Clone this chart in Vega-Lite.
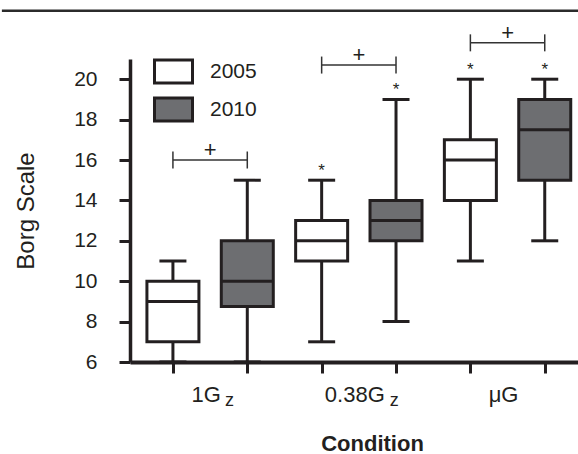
{
  "$schema": "https://vega.github.io/schema/vega-lite/v6.json",
  "width": 448,
  "height": 303,
  "autosize": {"type": "none"},
  "padding": {"left": 130, "top": 59, "right": 0, "bottom": 92},
  "config": {
    "view": {"stroke": null},
    "font": "Liberation Sans",
    "axis": {"grid": false, "domainColor": "#231f20", "tickColor": "#231f20", "labelColor": "#231f20", "titleColor": "#231f20", "tickCap": "butt"}
  },
  "datasets": {
    "boxes": [
      {"cond": "1Gz", "year": "2005", "pos": 1, "min": 6, "q1": 7, "med": 9, "q3": 10, "max": 11, "star": ""},
      {"cond": "1Gz", "year": "2010", "pos": 2, "min": 6, "q1": 8.75, "med": 10, "q3": 12, "max": 15, "star": ""},
      {"cond": "0.38Gz", "year": "2005", "pos": 3, "min": 7, "q1": 11, "med": 12, "q3": 13, "max": 15, "star": "*"},
      {"cond": "0.38Gz", "year": "2010", "pos": 4, "min": 8, "q1": 12, "med": 13, "q3": 14, "max": 19, "star": "*"},
      {"cond": "μG", "year": "2005", "pos": 5, "min": 11, "q1": 14, "med": 16, "q3": 17, "max": 20, "star": "*"},
      {"cond": "μG", "year": "2010", "pos": 6, "min": 12, "q1": 15, "med": 17.5, "q3": 19, "max": 20, "star": "*"}
    ],
    "brackets": [
      {"cond": "1Gz", "x1": 1, "x2": 2, "mid": 1.5, "level": 16, "sign": "+"},
      {"cond": "0.38Gz", "x1": 3, "x2": 4, "mid": 3.5, "level": 20.7, "sign": "+"},
      {"cond": "μG", "x1": 5, "x2": 6, "mid": 5.5, "level": 21.8, "sign": "+"}
    ],
    "xlabels": [
      {"cond": "1Gz", "pos": 1.5, "label": "1G", "sub": "z"},
      {"cond": "0.38Gz", "pos": 3.5, "label": "0.38G", "sub": "z"},
      {"cond": "μG", "pos": 5.5, "label": "μG", "sub": ""}
    ]
  },
  "layer": [
    {
      "data": {"values": [{"line": "top"}]},
      "mark": {"type": "rule", "stroke": "#2b2b2b", "strokeWidth": 2.5},
      "encoding": {
        "x": {"datum": -1.3, "type": "quantitative"},
        "x2": {"datum": 7},
        "y": {"datum": 23.39, "type": "quantitative"}
      }
    },
    {
      "data": {"name": "boxes"},
      "mark": {"type": "rule", "stroke": "#231f20", "strokeWidth": 3},
      "encoding": {
        "x": {"field": "pos", "type": "quantitative", "scale": {"domain": [0.49, 6.38], "nice": false, "zero": false},
          "axis": {"values": [1, 2, 3, 4, 5, 6], "labels": false, "tickSize": 11, "tickWidth": 3, "domainWidth": 4, "title": "Condition", "titleFontSize": 22, "titleFontWeight": "bold", "titleX": 242, "titleY": 88, "titleBaseline": "alphabetic", "titleAlign": "center"}},
        "y": {"field": "min", "type": "quantitative", "scale": {"domain": [6, 21], "nice": false, "zero": false},
          "axis": {"values": [6, 8, 10, 12, 14, 16, 18, 20], "tickSize": 11, "tickWidth": 3, "domainWidth": 3.5, "labelFontSize": 21, "labelPadding": 22, "title": "Borg Scale", "titleFontSize": 24, "titleFontWeight": "normal", "titlePadding": 35}},
        "y2": {"field": "max"}
      }
    },
    {
      "data": {"name": "boxes"},
      "mark": {"type": "tick", "orient": "horizontal", "color": "#231f20", "size": 27, "thickness": 3, "opacity": 1},
      "encoding": {
        "x": {"field": "pos", "type": "quantitative"},
        "y": {"field": "min", "type": "quantitative"}
      }
    },
    {
      "data": {"name": "boxes"},
      "mark": {"type": "tick", "orient": "horizontal", "color": "#231f20", "size": 27, "thickness": 3, "opacity": 1},
      "encoding": {
        "x": {"field": "pos", "type": "quantitative"},
        "y": {"field": "max", "type": "quantitative"}
      }
    },
    {
      "data": {"name": "boxes"},
      "mark": {"type": "bar", "size": 52, "stroke": "#231f20", "strokeWidth": 3, "opacity": 1},
      "encoding": {
        "x": {"field": "pos", "type": "quantitative"},
        "y": {"field": "q1", "type": "quantitative"},
        "y2": {"field": "q3"},
        "fill": {"field": "year", "type": "nominal", "scale": {"domain": ["2005", "2010"], "range": ["#ffffff", "#6d6e71"]},
          "legend": {"title": null, "orient": "none", "legendX": 23, "legendY": -8, "padding": 0, "symbolType": "M-1,-0.6H1V0.6H-1Z", "symbolSize": 1444, "symbolStrokeColor": "#231f20", "symbolStrokeWidth": 3, "symbolOpacity": 1, "labelFontSize": 21, "labelColor": "#231f20", "labelOffset": 16, "rowPadding": -5}}
      }
    },
    {
      "data": {"name": "boxes"},
      "mark": {"type": "tick", "orient": "horizontal", "color": "#231f20", "size": 51, "thickness": 3, "opacity": 1},
      "encoding": {
        "x": {"field": "pos", "type": "quantitative"},
        "y": {"field": "med", "type": "quantitative"}
      }
    },
    {
      "data": {"name": "boxes"},
      "mark": {"type": "text", "fontSize": 17, "color": "#231f20", "baseline": "alphabetic", "dy": -4},
      "encoding": {
        "x": {"field": "pos", "type": "quantitative"},
        "y": {"field": "max", "type": "quantitative"},
        "text": {"field": "star"}
      }
    },
    {
      "data": {"name": "brackets"},
      "mark": {"type": "rule", "stroke": "#333333", "strokeWidth": 1.5},
      "encoding": {
        "x": {"field": "x1", "type": "quantitative"},
        "x2": {"field": "x2"},
        "y": {"field": "level", "type": "quantitative"}
      }
    },
    {
      "data": {"name": "brackets"},
      "mark": {"type": "tick", "orient": "vertical", "color": "#333333", "size": 17, "thickness": 1.5, "opacity": 1},
      "encoding": {
        "x": {"field": "x1", "type": "quantitative"},
        "y": {"field": "level", "type": "quantitative"}
      }
    },
    {
      "data": {"name": "brackets"},
      "mark": {"type": "tick", "orient": "vertical", "color": "#333333", "size": 17, "thickness": 1.5, "opacity": 1},
      "encoding": {
        "x": {"field": "x2", "type": "quantitative"},
        "y": {"field": "level", "type": "quantitative"}
      }
    },
    {
      "data": {"name": "brackets"},
      "mark": {"type": "text", "fontSize": 22, "color": "#231f20", "baseline": "alphabetic", "dy": -3},
      "encoding": {
        "x": {"field": "mid", "type": "quantitative"},
        "y": {"field": "level", "type": "quantitative"},
        "text": {"field": "sign"}
      }
    },
    {
      "data": {"name": "xlabels"},
      "mark": {"type": "text", "fontSize": 22, "color": "#231f20", "baseline": "alphabetic", "align": "center", "dx": -4, "dy": 40},
      "encoding": {
        "x": {"field": "pos", "type": "quantitative"},
        "y": {"datum": 6, "type": "quantitative"},
        "text": {"field": "label"}
      }
    },
    {
      "data": {"name": "xlabels"},
      "transform": [{"filter": "datum.cond == '1Gz'"}],
      "mark": {"type": "text", "fontSize": 18, "color": "#231f20", "baseline": "alphabetic", "align": "left", "dx": 15, "dy": 44},
      "encoding": {
        "x": {"field": "pos", "type": "quantitative"},
        "y": {"datum": 6, "type": "quantitative"},
        "text": {"field": "sub"}
      }
    },
    {
      "data": {"name": "xlabels"},
      "transform": [{"filter": "datum.cond == '0.38Gz'"}],
      "mark": {"type": "text", "fontSize": 18, "color": "#231f20", "baseline": "alphabetic", "align": "left", "dx": 31, "dy": 44},
      "encoding": {
        "x": {"field": "pos", "type": "quantitative"},
        "y": {"datum": 6, "type": "quantitative"},
        "text": {"field": "sub"}
      }
    }
  ]
}
